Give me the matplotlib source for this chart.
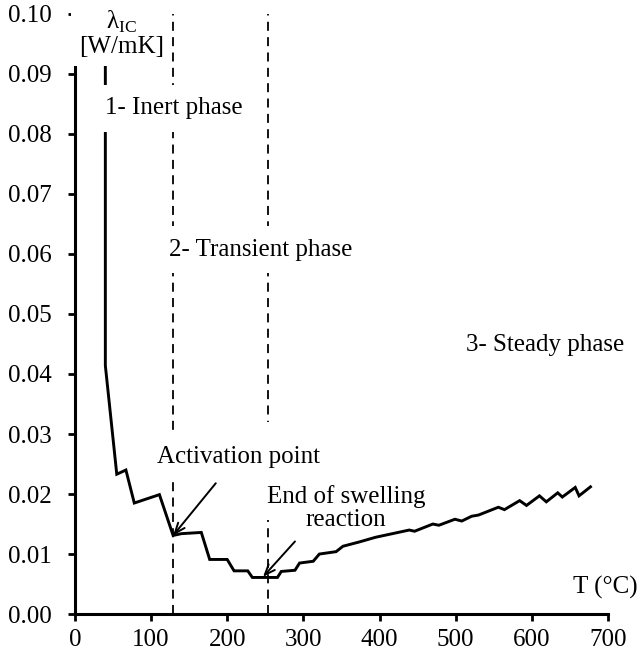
import matplotlib
matplotlib.use("Agg")
import matplotlib.pyplot as plt
from matplotlib.patches import Rectangle

plt.rcParams['font.family'] = ['Liberation Serif', 'DejaVu Serif']
plt.rcParams['mathtext.fontset'] = 'custom'
plt.rcParams['mathtext.rm'] = 'Liberation Serif'

# thermal conductivity of the intumescent coating vs temperature
temp = [40, 40, 55, 67, 78, 111, 129, 140, 166, 177, 200, 209, 227, 233, 266,
        271, 289, 295, 313, 321, 343, 352, 373, 395, 417, 439, 446, 462, 470,
        478, 499, 508, 521, 530, 556, 564, 584, 593, 610, 619, 634, 640, 657,
        662, 677]
lam = [0.092, 0.0414, 0.0233, 0.0240, 0.0185, 0.0199, 0.0131, 0.0134, 0.0136,
       0.0091, 0.0091, 0.0072, 0.0072, 0.0061, 0.0061, 0.0071, 0.0073, 0.0085,
       0.0088, 0.0100, 0.0104, 0.0113, 0.0120, 0.0128, 0.0134, 0.0140, 0.0138,
       0.0146, 0.0150, 0.0148, 0.0158, 0.0155, 0.0163, 0.0165, 0.0178, 0.0174,
       0.0189, 0.0181, 0.0197, 0.0187, 0.0202, 0.0195, 0.0211, 0.0197, 0.0212]

phase_limits = [129, 254]
activation = (129, 0.0131)
end_swelling = (247, 0.0062)

fs = 18
fig = plt.figure(figsize=(6.4, 6.61), dpi=100)
ax = fig.add_axes([0.117, 0.071, 0.833, 0.908])

ax.plot(temp, lam, color='black', lw=2.1, zorder=2, solid_joinstyle='miter')
for t in phase_limits:
    ax.plot([t, t], [0, 0.10], color='black', lw=1.3, ls=(0, (5, 3.5)), zorder=1)

ax.set_xlim(0, 700)
ax.set_ylim(0, 0.10)
ax.set_xticks(range(0, 701, 100))
ax.set_yticks([i / 100 for i in range(11)])
ax.set_yticklabels([f"{i / 100:.2f}" for i in range(11)])
ax.spines['top'].set_visible(False)
ax.spines['right'].set_visible(False)
for s in ['left', 'bottom']:
    ax.spines[s].set_linewidth(2.2)
ax.tick_params(axis='y', direction='out', length=5, width=2.0, labelsize=fs, pad=12)
ax.tick_params(axis='x', direction='out', length=5, width=2.0, labelsize=fs, pad=6)

box = dict(boxstyle='square,pad=0.5', fc='white', ec='none')
ax.text(61, 0.0967, '$\\mathrm{λ}_{\\mathrm{IC}}$\n[W/mK]', ha='center', va='center',
        fontsize=fs, bbox=dict(boxstyle='square,pad=0.33', fc='white', ec='none'),
        clip_on=False, zorder=5, linespacing=1.05)
ax.text(130, 0.0843, '1- Inert phase', ha='center', va='center', fontsize=fs,
        bbox=box, zorder=4)
ax.text(244, 0.0607, '2- Transient phase', ha='center', va='center', fontsize=fs,
        bbox=box, zorder=4)
ax.text(618, 0.0448, '3- Steady phase', ha='center', va='center', fontsize=fs,
        bbox=box, zorder=4)
ax.text(215, 0.0262, 'Activation point', ha='center', va='center', fontsize=fs,
        bbox=box, zorder=4)
ax.add_patch(Rectangle((249, 0.0157), 213, 0.0163, fc='white', ec='none', zorder=3))
ax.text(356, 0.0177, 'End of swelling\nreaction', ha='center', va='center',
        fontsize=fs, zorder=4, linespacing=1.05)
ax.text(697, 0.0045, 'T (°C)', ha='center', va='center', fontsize=fs, clip_on=False)

arrow = dict(arrowstyle='->,head_length=0.75,head_width=0.3', color='black', lw=1.4,
             shrinkA=0, shrinkB=0)
ax.annotate('', xy=activation, xytext=(185, 0.0218), arrowprops=arrow, zorder=6)
ax.annotate('', xy=end_swelling, xytext=(289, 0.0121), arrowprops=arrow, zorder=6)

fig.savefig('out.png', dpi=100)
